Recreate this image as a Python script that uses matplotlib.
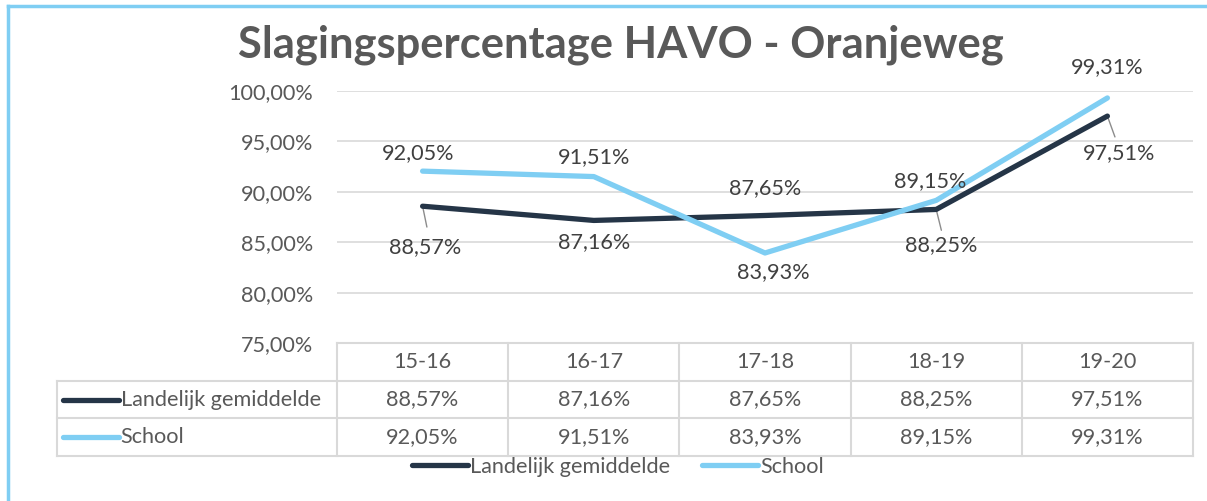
import matplotlib
matplotlib.use("Agg")
import matplotlib.pyplot as plt
from matplotlib.lines import Line2D

# ---- data ----
categories = ["15-16", "16-17", "17-18", "18-19", "19-20"]
series_names = ["Landelijk gemiddelde", "School"]
landelijk = [88.57, 87.16, 87.65, 88.25, 97.51]
school = [92.05, 91.51, 83.93, 89.15, 99.31]
yticks = [75, 80, 85, 90, 95, 100]
title = "Slagingspercentage HAVO - Oranjeweg"

# ---- style ----
FONT = "Lato"
DARK = "#253547"
LIGHT = "#7FCEF3"
GRID = "#D9D9D9"
TXT = "#595959"
LBL = "#404040"
FS = 15.6

W, H = 1207, 501
fig = plt.figure(figsize=(W / 100, H / 100), dpi=100)
plt.rcParams['font.family'] = [FONT, 'DejaVu Sans']

def fx(px):
    return px / W

def fy(py):
    return (H - py) / H

# border (light blue frame at left and top)
fig.add_artist(Line2D([fx(8), fx(8)], [fy(6), 0], color=LIGHT, lw=2.5, transform=fig.transFigure))
fig.add_artist(Line2D([fx(8), 1], [fy(6), fy(6)], color=LIGHT, lw=2.5, transform=fig.transFigure))

# main axes
L, R, T, B = 337, 1193, 91, 343
ax = fig.add_axes([fx(L), fy(B), fx(R) - fx(L), fy(T) - fy(B)])
x = list(range(len(categories)))
ax.set_xlim(-0.5, len(categories) - 0.5)
ax.set_ylim(75, 100)
for s in ax.spines.values():
    s.set_visible(False)
ax.set_xticks([])
ax.set_yticks(yticks)
ax.set_yticklabels([f"{v:.2f}".replace(".", ",") + "%" for v in yticks],
                   fontsize=FS, color=TXT)
ax.tick_params(axis='y', length=0, pad=17)
for v in yticks[1:]:
    ax.axhline(v, color=GRID, lw=1.2, zorder=0)

ax.plot(x, landelijk, color=DARK, lw=3.8, solid_capstyle='round', zorder=3, clip_on=False)
ax.plot(x, school, color=LIGHT, lw=3.8, solid_capstyle='round', zorder=4, clip_on=False)

def fmt(v):
    return f"{v:.2f}".replace(".", ",") + "%"

# data labels: offsets in points (dx, dy)
land_off = [(1.7, -29.5), (0, -15.5), (0, 19.8), (3.5, -25.6), (8.4, -26.6)]
school_off = [(-3.3, 13), (0, 14), (5.8, -13.7), (-4.4, 14), (0, 22.3)]
leaders = [0, 3, 4]
for i, v in enumerate(landelijk):
    dx, dy = land_off[i]
    ax.annotate(fmt(v), (x[i], v), xytext=(dx, dy), textcoords='offset points',
                ha='center', va='center', fontsize=FS, color=LBL, zorder=6,
                annotation_clip=False)
    if i in leaders:
        ax.annotate("", (x[i], v), xytext=(dx * 0.35 + 2.5, -15), textcoords='offset points',
                    arrowprops=dict(arrowstyle='-', color='#8C8C8C', lw=1.0,
                                    shrinkA=0, shrinkB=0), zorder=2,
                    annotation_clip=False)
for i, v in enumerate(school):
    dx, dy = school_off[i]
    ax.annotate(fmt(v), (x[i], v), xytext=(dx, dy), textcoords='offset points',
                ha='center', va='center', fontsize=FS, color=LBL, zorder=6,
                annotation_clip=False)

# title
fig.text(fx(621), fy(45), title, ha='center', va='center', fontsize=31.3,
         fontweight='bold', color=TXT)

# ---- data table ----
TB = 456
tax = fig.add_axes([fx(L), fy(TB), fx(R) - fx(L), fy(B) - fy(TB)])
tax.set_xlim(-0.5, len(categories) - 0.5)
tax.set_ylim(3, 0)
tax.axis('off')
colw = (R - L) / len(categories)
left_x = -0.5 - (L - 57) / colw
kw = dict(color=GRID, lw=1.5, clip_on=False, solid_capstyle='projecting')
tax.plot([-0.5, len(categories) - 0.5], [0, 0], **kw)
for r in (1, 2, 3):
    tax.plot([left_x, len(categories) - 0.5], [r, r], **kw)
for c in range(len(categories) + 1):
    tax.plot([c - 0.5, c - 0.5], [0, 3], **kw)
tax.plot([left_x, left_x], [1, 3], **kw)

for i, c in enumerate(categories):
    tax.text(i, 0.5, c, ha='center', va='center', fontsize=FS, color=TXT)
    tax.text(i, 1.5, fmt(landelijk[i]), ha='center', va='center', fontsize=FS, color=TXT)
    tax.text(i, 2.5, fmt(school[i]), ha='center', va='center', fontsize=FS, color=TXT)

k0 = -0.5 + (63 - L) / colw
k1 = -0.5 + (119 - L) / colw
for r, (name, col) in enumerate(zip(series_names, [DARK, LIGHT])):
    tax.plot([k0, k1], [1.5 + r, 1.5 + r], color=col, lw=3.8, solid_capstyle='round', clip_on=False)
    tax.text(k1 + 0.01, 1.5 + r, name, ha='left', va='center', fontsize=FS, color=TXT)

# ---- bottom legend ----
handles = [Line2D([], [], color=DARK, lw=3.8, solid_capstyle='round'),
           Line2D([], [], color=LIGHT, lw=3.8, solid_capstyle='round')]
fig.legend(handles, series_names, loc='center', bbox_to_anchor=(fx(618), fy(467)),
           ncol=2, frameon=False, fontsize=FS, labelcolor=TXT,
           handlelength=2.55, handletextpad=0.1, columnspacing=1.5,
           borderpad=0, borderaxespad=0)

fig.savefig("out.png", dpi=100, facecolor='white')
